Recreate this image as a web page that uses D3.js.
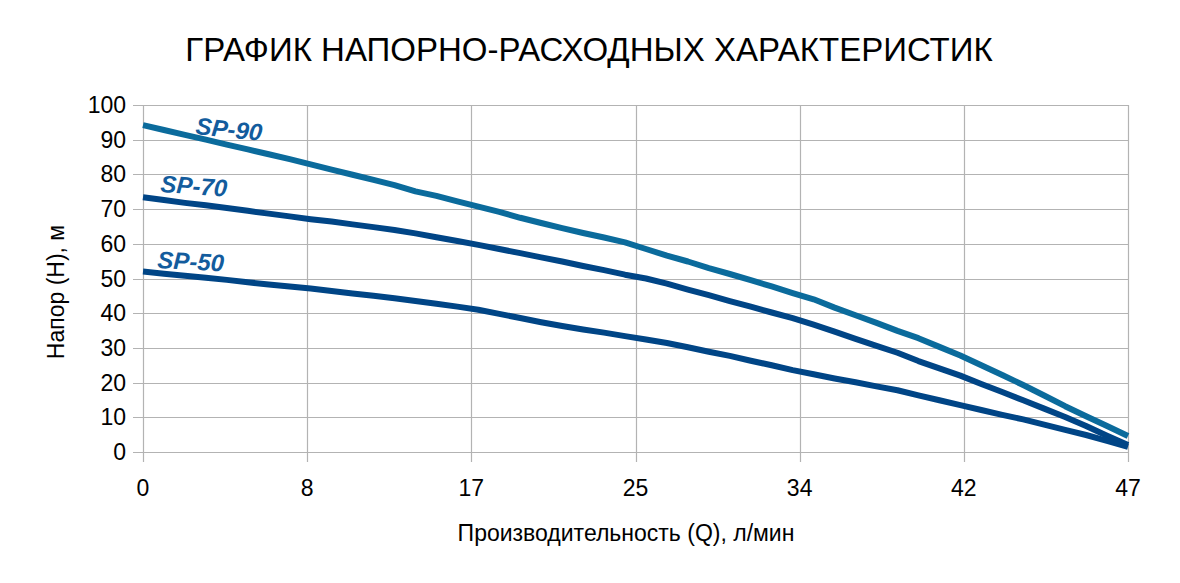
<!DOCTYPE html>
<html>
<head>
<meta charset="utf-8">
<script src="https://cdn.jsdelivr.net/npm/d3@7"></script>
<style>
  body { margin: 0; background: #fff; }
  text { font-family: "Liberation Sans", Arial, sans-serif; }
</style>
</head>
<body>
<div id="chart"></div>
<script>
// Q (л/мин) sample points
var flow = [0, 1, 2, 3, 4, 5, 6, 7, 8, 9, 10, 11, 12, 13, 14, 15, 16, 17, 18, 19, 20, 21, 22, 23,
  24, 25, 26, 27, 28, 29, 30, 31, 32, 33, 34, 35, 36, 37, 38, 39, 40, 41, 42, 43, 44, 45, 46, 47];

var sp90 = [94.2, 92.8, 91.4, 90.0, 88.6, 87.2, 85.8, 84.4, 82.9, 81.4, 79.9, 78.4, 76.9, 75.1, 73.8, 72.2,
  70.7, 69.2, 67.5, 66.0, 64.5, 63.1, 61.8, 60.4, 58.5, 56.6, 54.9, 53.0, 51.3, 49.5, 47.7, 45.8,
  44.0, 41.6, 39.4, 37.2, 34.9, 32.8, 30.3, 27.8, 25.0, 22.2, 19.3, 16.3, 13.2, 10.3, 7.5, 4.6];

var sp70 = [73.4, 72.6, 71.8, 71.1, 70.3, 69.5, 68.7, 67.9, 67.1, 66.4, 65.6, 64.8, 64.0, 63.0, 61.9, 60.8,
  59.7, 58.5, 57.3, 56.1, 54.9, 53.6, 52.4, 51.1, 50.0, 48.5, 46.8, 45.2, 43.5, 41.9, 40.2, 38.6,
  36.7, 34.7, 32.6, 30.6, 28.6, 26.2, 24.1, 22.0, 19.6, 17.3, 14.9, 12.5, 10.1, 7.5, 4.7, 2.0];

var sp50 = [52.0, 51.4, 50.8, 50.2, 49.6, 48.9, 48.3, 47.7, 47.1, 46.4, 45.7, 45.0, 44.3, 43.5, 42.7, 41.9,
  41.0, 39.8, 38.6, 37.4, 36.3, 35.3, 34.4, 33.4, 32.4, 31.4, 30.2, 28.9, 27.7, 26.3, 25.0, 23.6,
  22.4, 21.2, 20.1, 18.9, 17.8, 16.3, 14.9, 13.5, 12.1, 10.7, 9.4, 7.9, 6.4, 4.9, 3.2, 1.5];

var xTickLabels = ["0", "8", "17", "25", "34", "42", "47"];
var yTicks = [0, 10, 20, 30, 40, 50, 60, 70, 80, 90, 100];

var series = [
  { name: "SP-90", values: sp90, color: "#0b6b9c" },
  { name: "SP-70", values: sp70, color: "#004586" },
  { name: "SP-50", values: sp50, color: "#004586" }
];

var margin = { top: 105, right: 52, bottom: 131, left: 143 },
  width = 1180 - margin.left - margin.right,
  height = 583 - margin.top - margin.bottom;

var svg = d3.select("#chart")
  .append("svg")
  .attr("width", 1180)
  .attr("height", 583);

var g = svg.append("g")
  .attr("transform", "translate(" + margin.left + "," + margin.top + ")");

var x = d3.scaleLinear().domain([0, 47]).range([0, width]);
var y = d3.scaleLinear().domain([0, 100]).range([height, 0]);

var xTickVals = xTickLabels.map(function (d, i) { return 47 * i / (xTickLabels.length - 1); });

// grid
g.append("g")
  .selectAll("line.h")
  .data(yTicks)
  .enter().append("line")
  .attr("x1", -10).attr("x2", width)
  .attr("y1", function (d) { return Math.round(y(d)) + 0.5; })
  .attr("y2", function (d) { return Math.round(y(d)) + 0.5; })
  .attr("stroke", "#b3b3b3").attr("stroke-width", 1.2);

g.append("g")
  .selectAll("line.v")
  .data(xTickVals)
  .enter().append("line")
  .attr("y1", 0).attr("y2", height + 10)
  .attr("x1", function (d) { return Math.round(x(d)) + 0.5; })
  .attr("x2", function (d) { return Math.round(x(d)) + 0.5; })
  .attr("stroke", "#b3b3b3").attr("stroke-width", 1.2);

// axis labels
g.append("g")
  .selectAll("text")
  .data(yTicks)
  .enter().append("text")
  .attr("x", -17)
  .attr("y", function (d) { return y(d) + 8; })
  .attr("text-anchor", "end")
  .attr("font-size", 23)
  .attr("fill", "#000")
  .text(function (d) { return d; });

g.append("g")
  .selectAll("text")
  .data(xTickVals)
  .enter().append("text")
  .attr("x", function (d) { return x(d); })
  .attr("y", height + 44)
  .attr("text-anchor", "middle")
  .attr("font-size", 23)
  .attr("fill", "#000")
  .text(function (d, i) { return xTickLabels[i]; });

// curves
var line = d3.line()
  .x(function (d, i) { return x(flow[i]); })
  .y(function (d) { return y(d); });

g.selectAll("path.curve")
  .data(series)
  .enter().append("path")
  .attr("class", "curve")
  .attr("d", function (d) { return line(d.values); })
  .attr("fill", "none")
  .attr("stroke", function (d) { return d.color; })
  .attr("stroke-width", 6)
  .attr("stroke-linejoin", "round");

// curve labels
var labels = [
  { text: "SP-90", x: 195, y: 134, rot: 6 },
  { text: "SP-70", x: 160, y: 192, rot: 4 },
  { text: "SP-50", x: 157, y: 268, rot: 3 }
];
svg.selectAll("text.lbl")
  .data(labels)
  .enter().append("text")
  .attr("class", "lbl")
  .attr("transform", function (d) { return "translate(" + d.x + "," + d.y + ") rotate(" + d.rot + ")"; })
  .attr("font-size", 24)
  .attr("font-weight", "bold")
  .attr("font-style", "italic")
  .attr("fill", "#135c9d")
  .text(function (d) { return d.text; });

// titles
svg.append("text")
  .attr("x", 589)
  .attr("y", 61)
  .attr("text-anchor", "middle")
  .attr("font-size", 33)
  .attr("fill", "#000")
  .text("ГРАФИК НАПОРНО-РАСХОДНЫХ ХАРАКТЕРИСТИК");

svg.append("text")
  .attr("x", 626)
  .attr("y", 541)
  .attr("text-anchor", "middle")
  .attr("font-size", 23)
  .attr("fill", "#000")
  .text("Производительность (Q), л/мин");

svg.append("text")
  .attr("transform", "translate(64,292) rotate(-90)")
  .attr("text-anchor", "middle")
  .attr("font-size", 23)
  .attr("fill", "#000")
  .text("Напор (Н), м");
</script>
</body>
</html>
